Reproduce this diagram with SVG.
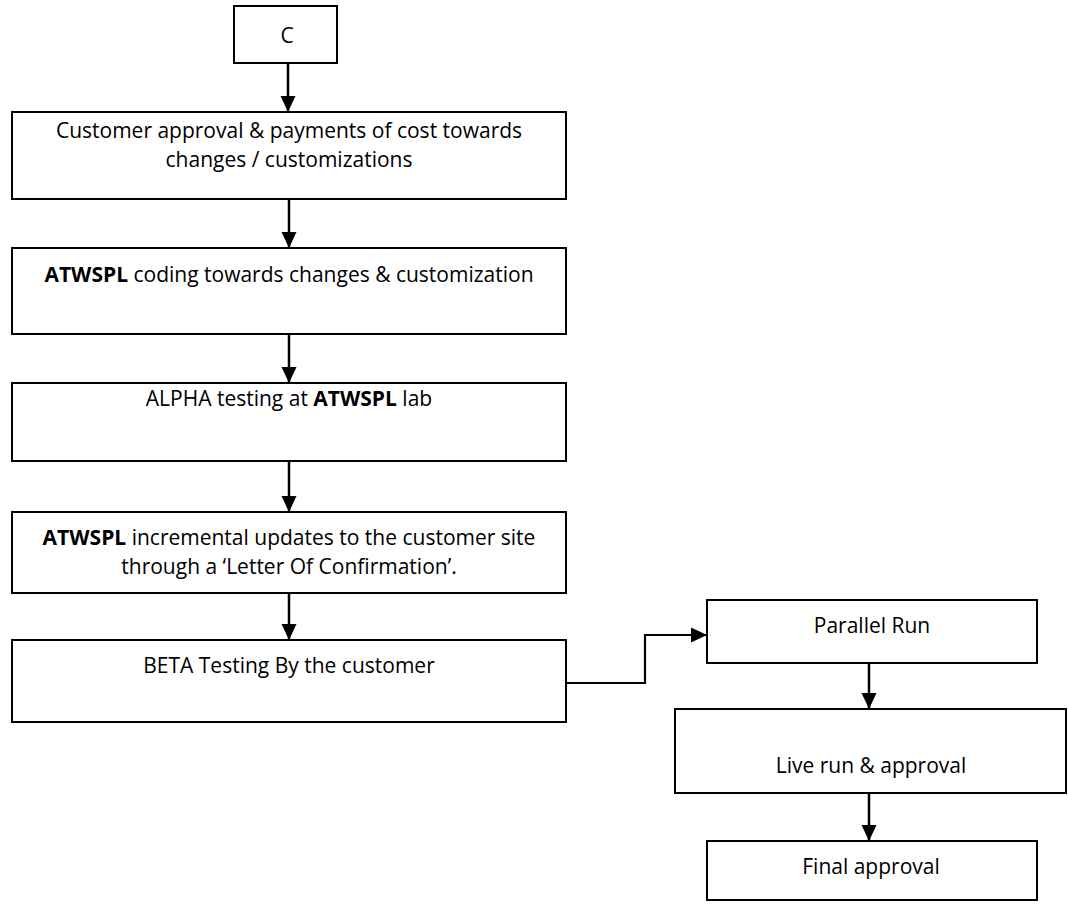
<svg xmlns="http://www.w3.org/2000/svg" width="1068" height="904" viewBox="0 0 1068 904">
<style>
.box{fill:#fff;stroke:#000;stroke-width:2}
.conn{stroke:#000;stroke-width:2.5;fill:none}
.elbow{stroke:#000;stroke-width:2.2;fill:none}
text{font-family:"Open Sans","Noto Sans",sans-serif;font-size:21px;fill:#000;text-anchor:middle}
.b{font-weight:bold}
</style>
<defs>
<marker id="ah" markerUnits="userSpaceOnUse" markerWidth="16" markerHeight="16" viewBox="0 0 16 15" refX="16" refY="7.5" orient="auto">
<path d="M0,0 L16,7.5 L0,15 z" fill="#000"/>
</marker>
</defs>
<rect width="1068" height="904" fill="#fff"/>
<g id="connectors">
<line class="conn" x1="288" y1="63" x2="288" y2="112" marker-end="url(#ah)"/>
<line class="conn" x1="289" y1="199" x2="289" y2="248" marker-end="url(#ah)"/>
<line class="conn" x1="289" y1="334" x2="289" y2="383" marker-end="url(#ah)"/>
<line class="conn" x1="289" y1="461" x2="289" y2="512" marker-end="url(#ah)"/>
<line class="conn" x1="289" y1="593" x2="289" y2="640" marker-end="url(#ah)"/>
<polyline class="elbow" points="566,683 645,683 645,635 707,635" marker-end="url(#ah)"/>
<line class="conn" x1="869" y1="663" x2="869" y2="709" marker-end="url(#ah)"/>
<line class="conn" x1="869" y1="793" x2="869" y2="841" marker-end="url(#ah)"/>
</g>
<g id="node-c">
<rect class="box" x="234" y="6" width="103" height="57"/>
<text x="287" y="43">C</text>
</g>
<g id="node-approval">
<rect class="box" x="12" y="112" width="554" height="87"/>
<text x="289" y="138">Customer approval &amp; payments of cost towards</text>
<text x="289" y="167">changes / customizations</text>
</g>
<g id="node-coding">
<rect class="box" x="12" y="248" width="554" height="86"/>
<text x="289" y="282"><tspan class="b">ATWSPL</tspan> coding towards changes &amp; customization</text>
</g>
<g id="node-alpha">
<rect class="box" x="12" y="383" width="554" height="78"/>
<text x="289" y="406">ALPHA testing at <tspan class="b">ATWSPL</tspan> lab</text>
</g>
<g id="node-updates">
<rect class="box" x="12" y="512" width="554" height="81"/>
<text x="289" y="545"><tspan class="b">ATWSPL</tspan> incremental updates to the customer site</text>
<text x="289" y="574">through a ‘Letter Of Confirmation’.</text>
</g>
<g id="node-beta">
<rect class="box" x="12" y="640" width="554" height="82"/>
<text x="289" y="673">BETA Testing By the customer</text>
</g>
<g id="node-parallel">
<rect class="box" x="707" y="600" width="330" height="63"/>
<text x="872" y="633">Parallel Run</text>
</g>
<g id="node-live">
<rect class="box" x="675" y="709" width="391" height="84"/>
<text x="871" y="773">Live run &amp; approval</text>
</g>
<g id="node-final">
<rect class="box" x="707" y="841" width="330" height="59"/>
<text x="871" y="874">Final approval</text>
</g>
</svg>
